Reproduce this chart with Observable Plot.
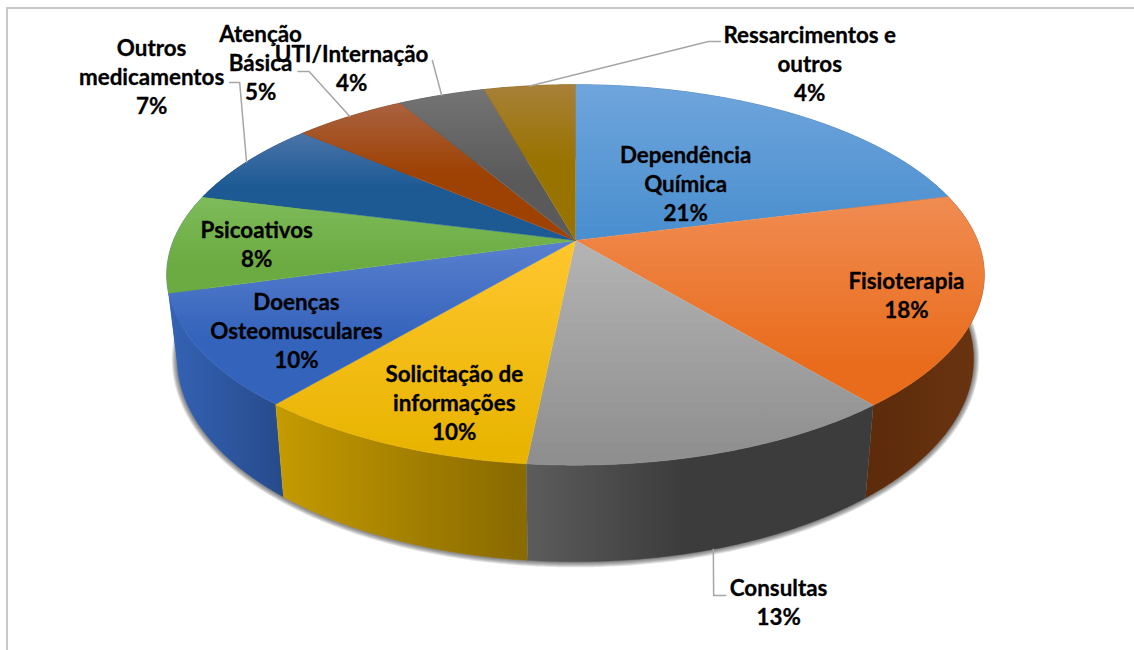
<!DOCTYPE html>
<html><head><meta charset="utf-8">
<script src="https://cdn.jsdelivr.net/npm/d3@7"></script>
<script src="https://cdn.jsdelivr.net/npm/@observablehq/plot@0.6"></script>
<style>
html,body{margin:0;padding:0;background:#fff;overflow:hidden}
#frame{position:absolute;left:6px;top:7px;right:-4px;bottom:-4px;border-left:2px solid #c9c9c9;border-top:2px solid #c9c9c9}
#chart{position:absolute;left:0;top:0}
#chart svg{display:block;overflow:visible;background:transparent}
</style></head><body>
<div id="frame"></div><div id="chart"></div>
<script>
// Data
const categories = ["Dependência\nQuímica","Fisioterapia","Consultas","Solicitação de\ninformações","Doenças\nOsteomusculares","Psicoativos","Outros\nmedicamentos","Atenção\nBásica","UTI/Internação","Ressarcimentos e\noutros"];
const values = [21.0,18.0,12.6,9.5,9.5,8.4,7.3,5.3,4.1,4.3];
const percentLabels = ["21%","18%","13%","10%","10%","8%","7%","5%","4%","4%"];

// Styles
const topColors = [["#6fa5dc","#4a8fcf",.95],["#f08c52","#e96c1c",.8],["#b4b4b4","#8f8f8f",.95],["#ffc62e","#e8b400",.95],["#5a80cf","#3463bb",.6],["#7ebb5a","#6cab42",.7],["#4a74a8","#1d5a94",.5],["#aa6240","#9e4204",.5],["#747474","#5a5a5a",.6],["#a88038","#997300",.5]];
const wallColors = [["#2f5f8c","#2f5f8c",1],["#5c2b0b","#6a3410",1],["#5c5c5c","#3c3c3c",.45],["#c59b00","#8a6b00",.95],["#3462b4","#264b8b",1],["#3462b4","#3462b4",1],["#163a5c","#163a5c",1],["#5e2b08","#5e2b08",1],["#3b3b3b","#3b3b3b",1],["#5c4500","#5c4500",1]];
const shadowWidths = [11,9,7,5,3];
// Label placement: polar position [angle degrees clockwise from top, radius of the pie]
const labelPolar = [[41.7,.436],[110,.831],[165.6,1.498],[198.9,.803],[234.85,.78],[268.4,.79],[310.2,1.646],[321,1.509],[329.2,1.309],[31.2,1.362]];
// Leader lines: slice index, polar elbow, horizontal stub in px, start on lower rim
const leaders = [
  {i:2, elbow:[169.9,1.4525], stub:12, lower:true},
  {i:6, elbow:[315.8,1.419], stub:-10},
  {i:7, elbow:[324.2,1.359], stub:-11},
  {i:8, elbow:[340,1.265], stub:0},
  {i:9, elbow:[17,1.407], stub:12}
];

// Perspective of the pie
const k = .181, lowerScale = .974, lowerShift = -82/184, lowerB = 196/184, A = 402;
const rad = d => d * Math.PI / 180;
const top3d = (deg, r=1) => {
  const cx = r*Math.sin(rad(deg)), cy = r*Math.cos(rad(deg)), s = 1 + k*cy;
  return {x: cx/s, y: cy/s};
};
const low3d = (deg) => {
  const p = top3d(deg);
  return {x: p.x*lowerScale, y: lowerShift + p.y*lowerB};
};
const total = d3.sum(values);
const cum = d3.cumsum(values);
const slices = values.map((v,i)=>({i, a0:(i?cum[i-1]:0)/total*360, a1:cum[i]/total*360}));
const arc = (a0,a1) => { const n=Math.max(2,Math.ceil((a1-a0)*2)); return d3.range(n+1).map(j=>a0+(a1-a0)*j/n); };
const topPoly = s => [{x:0,y:0}, ...arc(s.a0,s.a1).map(a=>top3d(a))];
const wallPoly = s => [...arc(s.a0,s.a1).map(a=>top3d(a)), ...arc(s.a0,s.a1).reverse().map(low3d)];
const rimPoly = arc(0,360).map(low3d);

const grad = (id,[c0,c1,mid],horizontal) => `<linearGradient id="${id}" x1="0" y1="0" x2="${horizontal?1:0}" y2="${horizontal?0:1}"><stop offset="0" stop-color="${c0}"/><stop offset="${mid}" stop-color="${c1}"/><stop offset="1" stop-color="${c1}"/></linearGradient>`;
const defsMark = () => {
  const g = document.createElementNS("http://www.w3.org/2000/svg","defs");
  g.innerHTML = topColors.map((c,i)=>grad("t"+i,c,false)).join("") + wallColors.map((c,i)=>grad("w"+i,c,true)).join("");
  return g;
};
const line = (data,id) => Plot.line(data,{x:"x",y:"y",curve:"linear",fill:`url(#${id})`,stroke:`url(#${id})`,strokeWidth:.5});

const labelData = slices.map(s=>{
  const [a,r]=labelPolar[s.i], p=top3d(a,r);
  return {...p, text:categories[s.i]+"\n"+percentLabels[s.i]};
});
const leaderMarks = leaders.map(({i,elbow,stub,lower})=>{
  const s=slices[i], mid=(s.a0+s.a1)/2;
  const e=top3d(elbow[0],elbow[1]);
  const pts=[lower?low3d(mid):top3d(mid), e];
  if(stub) pts.push({x:e.x+stub/A,y:e.y});
  return Plot.line(pts,{x:"x",y:"y",curve:"linear",stroke:"#a6a6a6",strokeWidth:1.5});
});

const plot = Plot.plot({
  width:1134,height:650,margin:0,
  x:{domain:[-1,1],range:[575-A,575+A],axis:null},
  y:{domain:[-1,1],range:[240+184,240-184],axis:null},
  marks:[
    defsMark,
    ...shadowWidths.map(w=>Plot.line([...rimPoly,rimPoly[0]],{x:"x",y:"y",curve:"linear",stroke:"#222",strokeOpacity:.13,strokeWidth:w})),
    ...[5,6,7,8,9,0,4,1,3,2].map(i=>line(wallPoly(slices[i]),"w"+i)),
    ...slices.map(s=>line(topPoly(s),"t"+s.i)),
    ...leaderMarks,
    Plot.text(labelData,{x:"x",y:"y",dy:-1,text:"text",fontFamily:"Lato",fontWeight:"bold",fontSize:22.4,lineHeight:1.295,fill:"#000",stroke:"#000",strokeWidth:.3,paintOrder:"normal",lineAnchor:"middle",textAnchor:"middle"})
  ]
});
document.getElementById("chart").append(plot);
</script></body></html>
